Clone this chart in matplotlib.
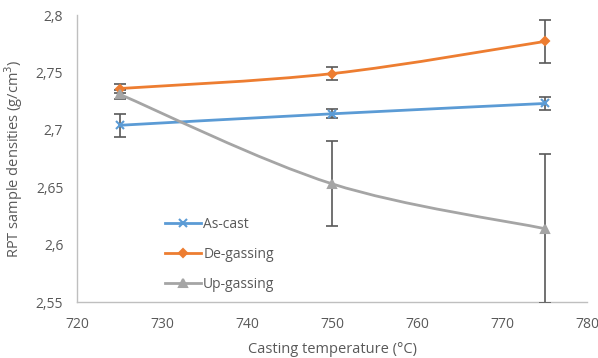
import matplotlib
matplotlib.use('Agg')
import matplotlib.pyplot as plt
from matplotlib.path import Path
from matplotlib.patches import PathPatch
from matplotlib.lines import Line2D

temps = [725, 750, 775]
as_cast = [2.704, 2.714, 2.723]
as_cast_err = [0.010, 0.004, 0.006]
degassing = [2.736, 2.749, 2.777]
degassing_err = [0.004, 0.006, 0.019]
upgassing = [2.731, 2.653, 2.614]
upgassing_err = [0.004, 0.037, 0.065]

x_ticks = [720, 730, 740, 750, 760, 770, 780]
y_ticks = [2.55, 2.6, 2.65, 2.7, 2.75, 2.8]
y_labels = ['2,55', '2,6', '2,65', '2,7', '2,75', '2,8']

plt.rcParams['font.family'] = ['Open Sans', 'DejaVu Sans']

GREY_TXT = '#595959'


def smooth_path(xs, ys):
    # excel-like smoothed line: catmull-rom segments as cubic bezier
    pts = list(zip(xs, ys))
    verts = [pts[0]]
    codes = [Path.MOVETO]
    n = len(pts)
    for i in range(n - 1):
        p0 = pts[i - 1] if i > 0 else pts[i]
        p1 = pts[i]
        p2 = pts[i + 1]
        p3 = pts[i + 2] if i + 2 < n else pts[i + 1]
        c1 = (p1[0] + (p2[0] - p0[0]) / 6, p1[1] + (p2[1] - p0[1]) / 6)
        c2 = (p2[0] - (p3[0] - p1[0]) / 6, p2[1] - (p3[1] - p1[1]) / 6)
        verts += [c1, c2, p2]
        codes += [Path.CURVE4] * 3
    return Path(verts, codes)


fig = plt.figure(figsize=(5.98, 3.58), dpi=100)
ax = fig.add_axes([0.129, 0.156, 0.853, 0.802])

series = [
    ('As-cast', as_cast, as_cast_err, '#5B9BD5', 'x', 6),
    ('De-gassing', degassing, degassing_err, '#ED7D31', 'D', 4.5),
    ('Up-gassing', upgassing, upgassing_err, '#A5A5A5', '^', 6),
]

handles = []
for name, vals, err, col, mk, ms in series:
    ax.add_patch(PathPatch(smooth_path(temps, vals), facecolor='none',
                           edgecolor=col, lw=2, zorder=2))
    ax.errorbar(temps, vals, yerr=err, fmt='none', ecolor='#595959',
                elinewidth=1.2, capsize=4, capthick=1.2, zorder=3)
    ax.plot(temps, vals, linestyle='none', marker=mk, color=col,
            markersize=ms, markeredgewidth=1.5, zorder=4)
    handles.append(Line2D([], [], color=col, lw=2, marker=mk,
                          markersize=ms, markeredgewidth=1.5))

ax.set_xlim(720, 780)
ax.set_ylim(2.55, 2.8)
ax.set_xticks(x_ticks)
ax.set_yticks(y_ticks)
ax.set_yticklabels(y_labels)
ax.tick_params(axis='x', length=0, colors=GREY_TXT, labelsize=10, pad=11)
ax.tick_params(axis='y', length=0, colors=GREY_TXT, labelsize=10, pad=10)
for s in ['top', 'right']:
    ax.spines[s].set_visible(False)
for s in ['left', 'bottom']:
    ax.spines[s].set_color('#BFBFBF')
    ax.spines[s].set_linewidth(1)

ax.set_xlabel('Casting temperature (°C)', color=GREY_TXT, fontsize=10.5,
              labelpad=7)
ax.set_ylabel('RPT sample densities (g/cm$^3$)', color=GREY_TXT,
              fontsize=10.5, labelpad=8)

leg = fig.legend(handles, [s[0] for s in series], loc='upper left',
                 bbox_to_anchor=(0.255, 0.43), frameon=False,
                 fontsize=10, labelspacing=1.1, handlelength=2.6,
                 handletextpad=0.15)
for t in leg.get_texts():
    t.set_color(GREY_TXT)

fig.savefig('out.png', dpi=100)
plt.close(fig)
